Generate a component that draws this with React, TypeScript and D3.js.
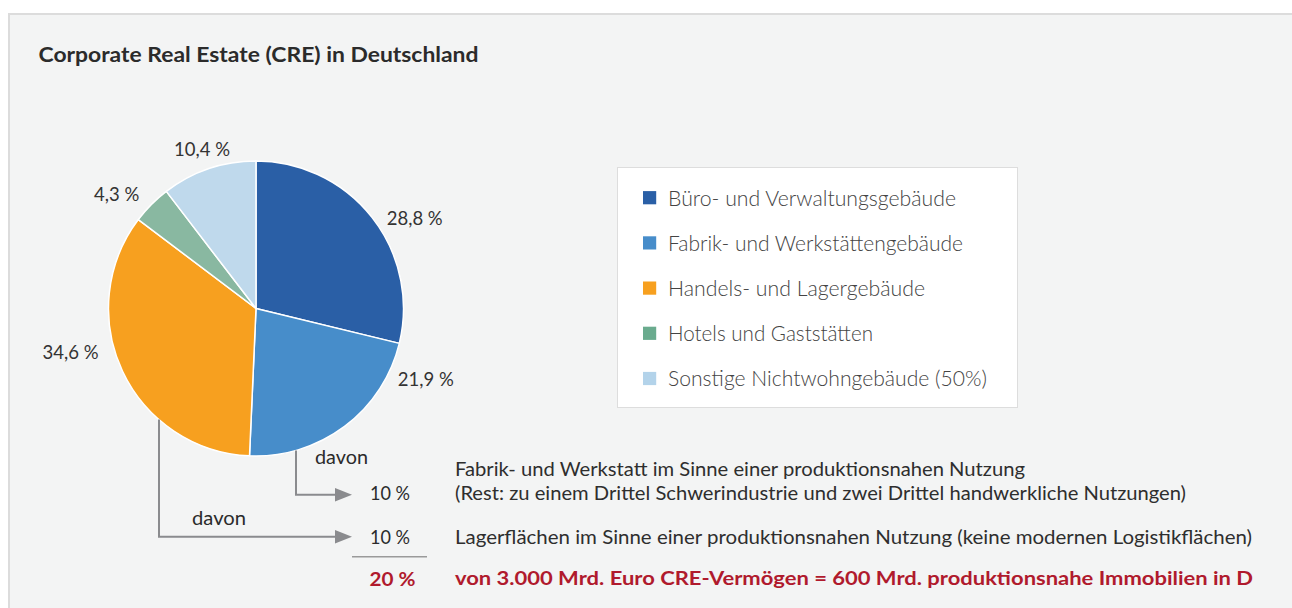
import React from "react";
import * as d3 from "d3";

const categories = [
  "Büro- und Verwaltungsgebäude",
  "Fabrik- und Werkstättengebäude",
  "Handels- und Lagergebäude",
  "Hotels und Gaststätten",
  "Sonstige Nichtwohngebäude (50%)",
];
const shares = [28.8, 21.9, 34.6, 4.3, 10.4];
const shareLabels = ["28,8 %", "21,9 %", "34,6 %", "4,3 %", "10,4 %"];
const sliceColors = ["#2a5fa6", "#478dca", "#f7a01f", "#89b8a1", "#bfd9ec"];
const legendColors = ["#2a5fa6", "#478dca", "#f7a01f", "#6aab8e", "#b3d3ea"];

const title = "Corporate Real Estate (CRE) in Deutschland";
const davonLabel = "davon";
const subShares = ["10 %", "10 %"];
const totalShare = "20 %";
const noteLines = [
  "Fabrik- und Werkstatt im Sinne einer produktionsnahen Nutzung",
  "(Rest: zu einem Drittel Schwerindustrie und zwei Drittel handwerkliche Nutzungen)",
  "Lagerflächen im Sinne einer produktionsnahen Nutzung (keine modernen Logistikflächen)",
];
const summaryLine = "von 3.000 Mrd. Euro CRE-Vermögen = 600 Mrd. produktionsnahe Immobilien in D";

// layout
const W = 1292;
const H = 608;
const CX = 256;
const CY = 308.5;
const R = 147.5;
const labelOffsets: [number, number][] = [
  [158.7, -90.5],
  [169.8, 70.8],
  [-185.5, 43.5],
  [-139.3, -114],
  [-54, -158.8],
];
const legendWidths = [288, 295, 257, 205, 319];
const noteWidths = [570, 731, 797];
const FONT = "Lato, 'Noto Sans', sans-serif";

export default function App() {
  const pie = d3
    .pie<number>()
    .sort(null)
    .value((d) => d)
    .startAngle(0)
    .endAngle(2 * Math.PI);
  const arcs = pie(shares);
  const arc = d3.arc<d3.PieArcDatum<number>>().innerRadius(0).outerRadius(R);

  const legendY = d3
    .scalePoint<number>()
    .domain(d3.range(categories.length))
    .range([197.7, 378.5]);

  // arrow lines start at the pie edge
  const edgeY = (x: number) => CY + Math.sqrt(R * R - (x - CX) * (x - CX));
  const arrow1X = 296;
  const arrow2X = 159;
  const arrow1Y = 494.8;
  const arrow2Y = 536.8;
  const tipX = 352;
  const lineColor = "#8a8b8e";

  const arrowHead = (y: number) =>
    `M${tipX - 17},${y - 6.8} L${tipX},${y} L${tipX - 17},${y + 6.8} Z`;

  return (
    <div style={{ width: W, height: H }}>
      <svg
        width={W}
        height={H}
        style={{ position: "absolute", left: 0, top: 0 }}
        fontFamily={FONT}
      >
        <rect x={0} y={0} width={W} height={H} fill="#ffffff" />
        <rect x={8} y={13} width={W} height={H} fill="#f3f4f4" />
        <line x1={8} y1={14} x2={W} y2={14} stroke="#dcdcdc" strokeWidth={2} />
        <line x1={9} y1={13} x2={9} y2={H} stroke="#dcdcdc" strokeWidth={2} />

        <text
          x={38.5}
          y={62.3}
          fontSize={21}
          fontWeight={700}
          fill="#2b2b2b"
          textLength={440}
          lengthAdjust="spacingAndGlyphs"
        >
          {title}
        </text>

        <g transform={`translate(${CX},${CY})`}>
          {arcs.map((a, i) => (
            <path
              key={i}
              d={arc(a) || ""}
              fill={sliceColors[i]}
              stroke="#ffffff"
              strokeWidth={1.5}
              strokeLinejoin="round"
            />
          ))}
          {arcs.map((a, i) => (
            <text
              key={"l" + i}
              x={labelOffsets[i][0]}
              y={labelOffsets[i][1]}
              dy="0.36em"
              textAnchor="middle"
              fontSize={18.5}
              fill="#333333"
            >
              {shareLabels[i]}
            </text>
          ))}
        </g>

        {/* legend */}
        <rect x={617.5} y={167.5} width={400} height={240} fill="#ffffff" stroke="#dddddd" strokeWidth={1} />
        {categories.map((c, i) => (
          <g key={c}>
            <rect x={643} y={(legendY(i) as number) - 6.6} width={13.2} height={13.2} fill={legendColors[i]} />
            <text
              x={668}
              y={(legendY(i) as number) + 7.9}
              fontSize={21}
              fontWeight={300}
              fill="#444444"
              textLength={legendWidths[i]}
              lengthAdjust="spacingAndGlyphs"
            >
              {c}
            </text>
          </g>
        ))}

        {/* arrows */}
        <path
          d={`M${arrow1X},${edgeY(arrow1X)} V${arrow1Y} H${tipX - 16}`}
          fill="none"
          stroke={lineColor}
          strokeWidth={2}
        />
        <path d={arrowHead(arrow1Y)} fill={lineColor} />
        <path
          d={`M${arrow2X},${edgeY(arrow2X)} V${arrow2Y} H${tipX - 16}`}
          fill="none"
          stroke={lineColor}
          strokeWidth={2}
        />
        <path d={arrowHead(arrow2Y)} fill={lineColor} />

        <text x={315} y={464} fontSize={18.5} fill="#2b2b2b" textLength={53} lengthAdjust="spacingAndGlyphs">
          {davonLabel}
        </text>
        <text x={192} y={524.5} fontSize={18.5} fill="#2b2b2b" textLength={54} lengthAdjust="spacingAndGlyphs">
          {davonLabel}
        </text>

        <text x={370} y={500} fontSize={18.5} fill="#2b2b2b" textLength={40} lengthAdjust="spacingAndGlyphs">
          {subShares[0]}
        </text>
        <text x={370} y={544} fontSize={18.5} fill="#2b2b2b" textLength={40} lengthAdjust="spacingAndGlyphs">
          {subShares[1]}
        </text>
        <line x1={352} y1={556.7} x2={427} y2={556.7} stroke="#9a9a9a" strokeWidth={1.5} />
        <text x={369.5} y={586} fontSize={19.5} fontWeight={700} fill="#b01a2d" textLength={46} lengthAdjust="spacingAndGlyphs">
          {totalShare}
        </text>

        {noteLines.map((t, i) => (
          <text
            key={t}
            x={455}
            y={[475.7, 500, 544.3][i]}
            fontSize={18.5}
            fill="#2e2e2e"
            textLength={noteWidths[i]}
            lengthAdjust="spacingAndGlyphs"
          >
            {t}
          </text>
        ))}
        <text
          x={455}
          y={585}
          fontSize={19.5}
          fontWeight={700}
          fill="#b01a2d"
          textLength={798}
          lengthAdjust="spacingAndGlyphs"
        >
          {summaryLine}
        </text>
      </svg>
    </div>
  );
}
